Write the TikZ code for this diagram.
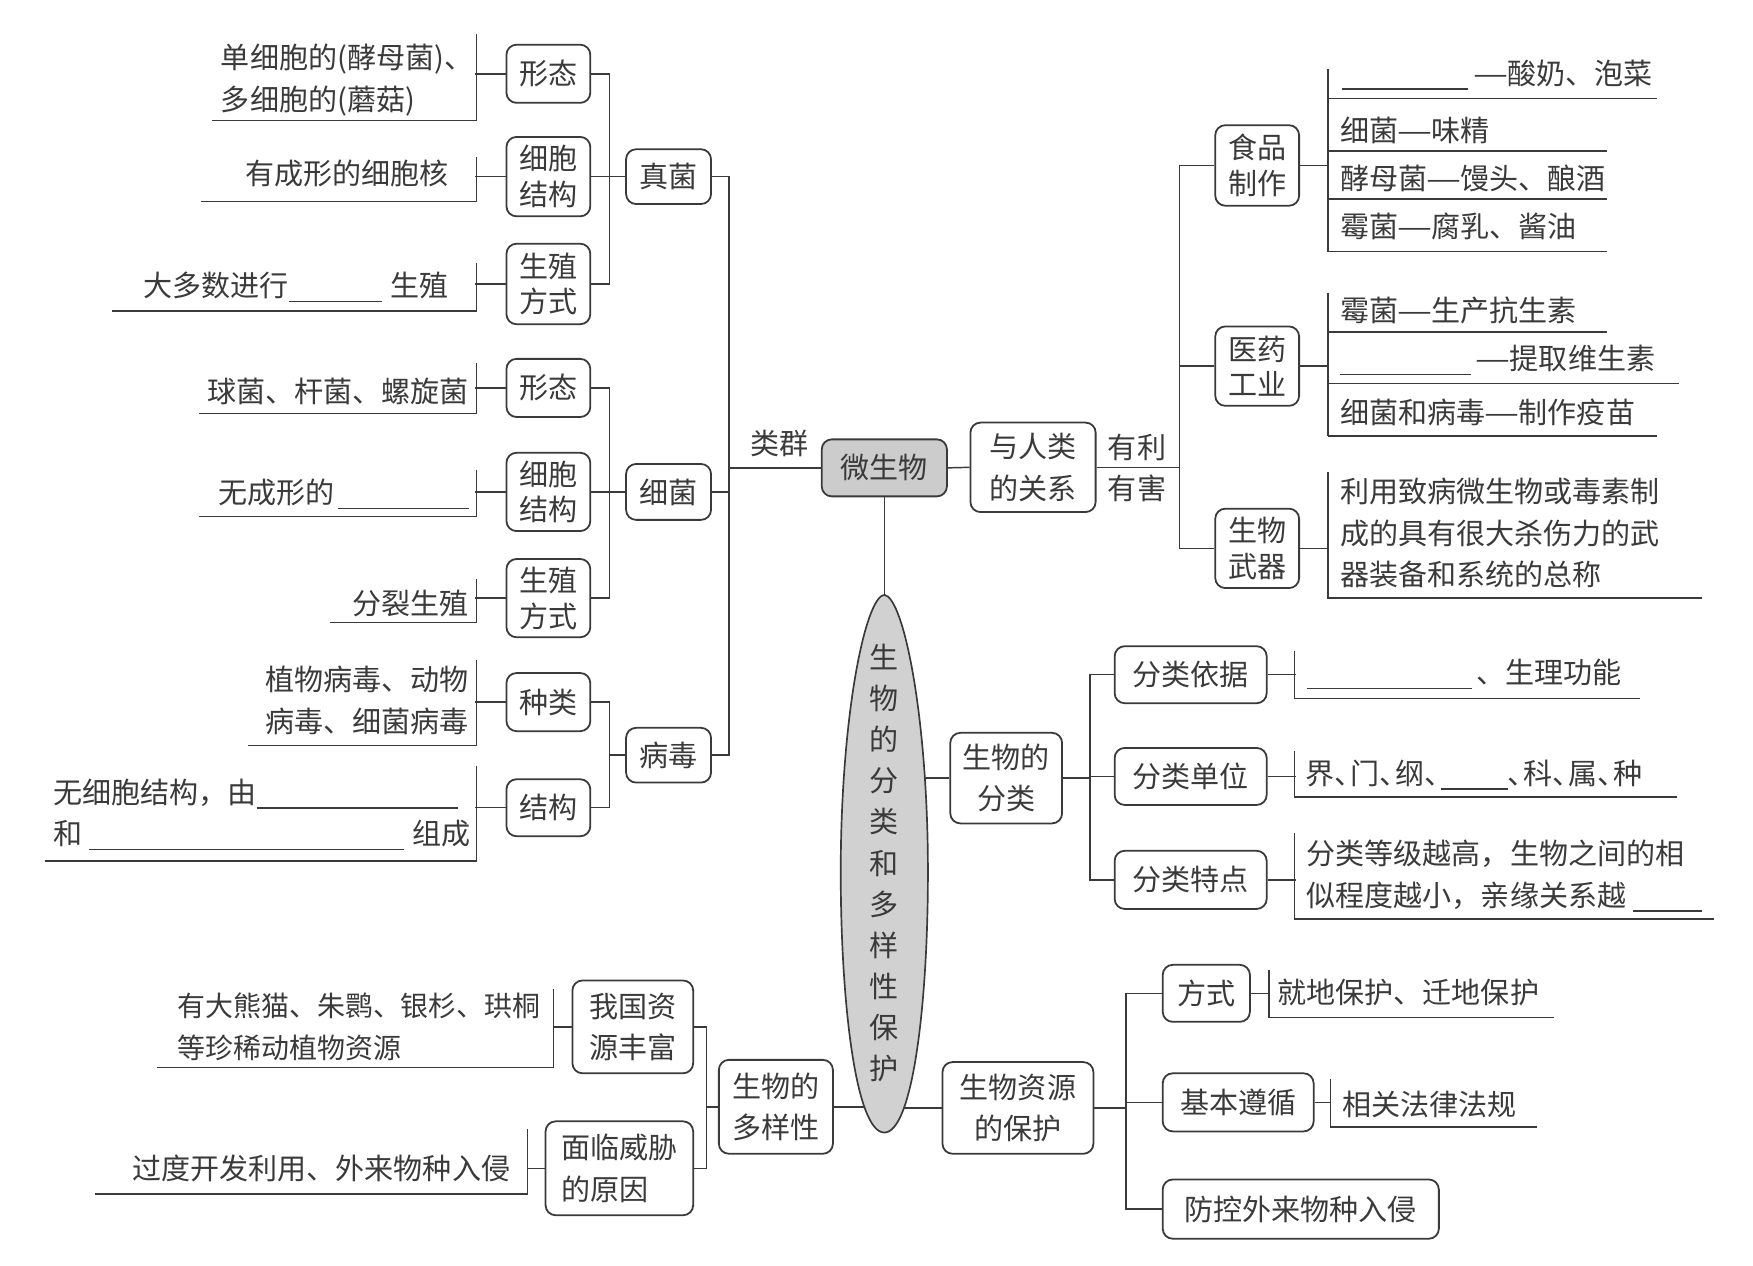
\documentclass[tikz,border=0pt]{standalone}
\usepackage{fontspec}
\setmainfont{Noto Sans CJK SC}
\usetikzlibrary{calc}
\definecolor{ln}{HTML}{3A3A3A}
\newcommand\myblank[1]{\rule[-5pt]{#1pt}{1.3pt}}
\newcommand\dunhao{\makebox[0.55em][l]{、}}
\newcommand\ldash{\makebox[1.15em][c]{\scalebox{1.35}[1]{—}}}
\begin{document}
\begin{tikzpicture}[x=1pt,y=-1pt,line width=1.3pt,ln,
  bx/.style={draw, rounded corners=9pt, line width=1.6pt, inner sep=0pt, align=center, font=\fontsize{26}{32}\selectfont},
  bxl/.style={bx, font=\fontsize{26}{37}\selectfont},
  lb/.style={inner sep=0pt, font=\fontsize{26}{37}\selectfont},
  sz/.style 2 args={minimum width=#1pt, minimum height=#2pt}]
\useasboundingbox (0,0) rectangle (1568,1132);

% ---------- 微生物 branch ----------
\node[bx, sz={75}{52}] (zxt) at (490.5,66) {形态};
\node[bx, sz={75}{71}] (zjg) at (490.5,158) {细胞\\结构};
\node[bx, sz={75}{72}] (zsz) at (490.5,254) {生殖\\方式};
\node[bx, sz={76}{49}] (zj) at (598,158) {真菌};

\node[bx, sz={75}{52}] (xxt) at (490.5,347) {形态};
\node[bx, sz={75}{70}] (xjg) at (490.5,440) {细胞\\结构};
\node[bx, sz={75}{70}] (xsz) at (490.5,535) {生殖\\方式};
\node[bx, sz={76}{50}] (xj) at (598,440) {细菌};

\node[bx, sz={75}{52}] (bzl) at (490.5,628) {种类};
\node[bx, sz={75}{51}] (bjg) at (490.5,722.5) {结构};
\node[bx, sz={76}{49}] (bd) at (598,675.5) {病毒};

\node[bx, sz={112}{51}, fill=black!20] (wsw) at (791,418.5) {微生物};
\node[lb] (lq) at (697,397) {类群};

\coordinate (zbar) at (545,0);
\draw (zxt.east) -| (zbar |- zsz.east) -- (zsz.east);
\draw (zjg.east) -- (zj.west);
\draw (xxt.east) -| (zbar |- xsz.east) -- (xsz.east);
\draw (xjg.east) -- (xj.west);
\draw (bzl.east) -| (zbar |- bjg.east) -- (bjg.east);
\draw (zbar |- bd.west) -- (bd.west);
\coordinate (cbar) at (652,0);
\draw (zj.east) -| (cbar |- bd.east) -- (bd.east);
\draw (xj.east) -- (xj.east -| cbar);
\draw (cbar |- wsw.west) -- (wsw.west);

% left texts
\node[lb, align=left, anchor=west] (t1) at (197,71.5) {单细胞的(酵母菌)、\\多细胞的(蘑菇)};
\draw (190,108) -- (426,108) -- (426,30);
\draw (zxt.west) -- ++(-27,0);
\node[lb, anchor=east] (t2) at (402,155) {有成形的细胞核};
\draw (180,180) -- (426,180) -- (426,140);
\draw (zjg.west) -- ++(-27,0);
\node[lb, anchor=east] (t3) at (402,257) {大多数进行\myblank{83}\hspace{8pt}生殖};
\draw (100,278) -- (426,278) -- (426,235);
\draw (zsz.west) -- ++(-27,0);

\node[lb, anchor=east] (t4) at (420,350) {球菌、杆菌、螺旋菌};
\draw (178,370) -- (426,370) -- (426,325);
\draw (xxt.west) -- ++(-27,0);
\node[lb, anchor=east] (t5) at (420,442) {无成形的\hspace{3pt}\myblank{117}};
\draw (178,462) -- (426,462) -- (426,420);
\draw (xjg.west) -- ++(-27,0);
\node[lb, anchor=east] (t6) at (420,540) {分裂生殖};
\draw (295,557) -- (426,557) -- (426,518);
\draw (xsz.west) -- ++(-27,0);

\node[lb, anchor=east, align=left] (t7) at (420,626.5) {植物病毒、动物\\病毒、细菌病毒};
\draw (222,667) -- (426,667) -- (426,590);
\draw (bzl.west) -- ++(-27,0);
\node[lb, anchor=west, align=left] (t8) at (47,728.5) {无细胞结构，由\myblank{180}\\和\hspace{6pt}\myblank{282}\hspace{7pt}组成};
\draw (40,770) -- (426,770) -- (426,685);
\draw (bjg.west) -- ++(-27,0);

% ---------- 与人类的关系 ----------
\node[bxl, sz={112}{80}] (gx) at (924,418) {与人类\\的关系};
\node[lb, align=center] (yl) at (1017,418.5) {有利\\有害};
\node[bx, sz={75}{72}] (sp) at (1124.5,148) {食品\\制作};
\node[bx, sz={75}{71}] (yy) at (1124.5,327.5) {医药\\工业};
\node[bx, sz={75}{71}] (wq) at (1124.5,490.5) {生物\\武器};
\draw (wsw.east) -- (gx.west);
\coordinate (rbar) at (1055,0);
\draw (gx.east) -- (gx.east -| rbar);
\draw (sp.west) -| (rbar |- wq.west) -- (wq.west);
\draw (yy.west) -- (yy.west -| rbar);

\draw (sp.east) -- ++(26,0);
\draw (1188,62) -- (1188,225);
\node[lb, anchor=west] (r1) at (1200,67) {\myblank{112}\hspace{6pt}\ldash 酸奶、泡菜};
\draw (1188,88) -- (1482,88);
\node[lb, anchor=west] (r2) at (1198,117) {细菌\ldash 味精};
\draw (1188,135) -- (1437,135);
\node[lb, anchor=west] (r3) at (1198,160) {酵母菌\ldash 馒头、酿酒};
\draw (1188,178) -- (1437,178);
\node[lb, anchor=west] (r4) at (1198,203) {霉菌\ldash 腐乳、酱油};
\draw (1188,225) -- (1437,225);

\draw (yy.east) -- ++(26,0);
\draw (1188,262) -- (1188,390);
\node[lb, anchor=west] (r5) at (1198,278) {霉菌\ldash 生产抗生素};
\draw (1188,297) -- (1437,297);
\node[lb, anchor=west] (r6) at (1198,322) {\myblank{117}\hspace{5pt}\ldash 提取维生素};
\draw (1188,343) -- (1502,343);
\node[lb, anchor=west] (r7) at (1198,369) {细菌和病毒\ldash 制作疫苗};
\draw (1188,390) -- (1482,390);

\draw (wq.east) -- ++(26,0);
\draw (1188,422) -- (1188,535) -- (1522,535);
\node[lb, anchor=west, align=left] (r8) at (1198,477) {利用致病微生物或毒素制\\成的具有很大杀伤力的武\\器装备和系统的总称};

% ---------- 生物的分类 ----------
\coordinate (ec) at (791,772);
\coordinate (etop) at (791,532);
\draw (wsw.south) -- (etop);
\node[bxl, sz={100}{81}] (fl) at (900,696) {生物的\\分类};
\node[bx, sz={136}{51}] (flyj) at (1065,603.5) {分类依据};
\node[bx, sz={136}{51}] (fldw) at (1065,694.5) {分类单位};
\node[bx, sz={136}{52}] (fltd) at (1065,787) {分类特点};
\draw (ec |- fl.west) -- (fl.west);
\coordinate (fbar) at (975,0);
\draw (fl.east) -- (fl.east -| fbar);
\draw (flyj.west) -| (fbar |- fltd.west) -- (fltd.west);
\draw (fldw.west) -- (fldw.west -| fbar);

\draw (flyj.east) -- ++(25,0);
\draw (1158,582) -- (1158,625) -- (1467,625);
\node[lb, anchor=west] (s1) at (1168,603) {\myblank{148}\hspace{4pt}、生理功能};
\draw (fldw.east) -- ++(25,0);
\draw (1158,672) -- (1158,713) -- (1500,713);
\node[lb, anchor=west] (s2) at (1167,693) {界\dunhao 门\dunhao 纲\dunhao \myblank{60}\dunhao 科\dunhao 属\dunhao 种};
\draw (fltd.east) -- ++(25,0);
\draw (1158,745) -- (1158,822) -- (1533,822);
\node[lb, anchor=west, align=left] (s3) at (1168,783.5) {分类等级越高，生物之间的相\\似程度越小，亲缘关系越\hspace{6pt}\myblank{62}};

% ---------- 生物的多样性 ----------
\node[bxl, sz={102}{84}] (dyx) at (694,990) {生物的\\多样性};
\node[bxl, sz={108}{83}] (zyfu) at (566,918.5) {我国资\\源丰富};
\node[bxl, sz={132}{84}, align=left] (wx) at (554,1045) {面临威胁\\的原因};
\draw (ec |- dyx.east) -- (dyx.east);
\coordinate (lbar) at (632,0);
\draw (dyx.west) -- (dyx.west -| lbar);
\draw (zyfu.east) -| (lbar |- wx.east) -- (wx.east);
\draw (zyfu.west) -- ++(-17,0);
\draw (495,885) -- (495,955) -- (140,955);
\node[lb, anchor=west, align=left, font=\fontsize{25}{37}\selectfont] (u1) at (158,918.5) {有大熊猫、朱鹮、银杉、珙桐\\等珍稀动植物资源};
\draw (wx.west) -- ++(-16,0);
\draw (472,1010) -- (472,1068) -- (85,1068);
\node[lb, anchor=east] (u2) at (457,1045) {过度开发利用、外来物种入侵};

% ---------- 生物资源的保护 ----------
\node[bxl, sz={135}{82}] (bh) at (910.5,991) {生物资源\\的保护};
\node[bx, sz={78}{51}] (fs) at (1079,888.5) {方式};
\node[bx, sz={135}{52}] (zx) at (1107.5,986) {基本遵循};
\node[bx, sz={247}{53}] (fk) at (1163.5,1081.5) {防控外来物种入侵};
\draw (ec |- bh.west) -- (bh.west);
\coordinate (bbar) at (1007,0);
\draw (bh.east) -- (bh.east -| bbar);
\draw (fs.west) -| (bbar |- fk.west) -- (fk.west);
\draw (zx.west) -- (zx.west -| bbar);
\draw (fs.east) -- ++(17,0);
\draw (1135,868) -- (1135,910) -- (1390,910);
\node[lb, anchor=west] (v1) at (1142,888) {就地保护、迁地保护};
\draw (zx.east) -- ++(15,0);
\draw (1190,965) -- (1190,1008) -- (1375,1008);
\node[lb, anchor=west] (v2) at (1200,988) {相关法律法规};

% ---------- central oval ----------
\path[draw, fill=black!18, line width=1.5pt] (etop) .. controls (808,534) and (830,640) .. (830,780) .. controls (830,900) and (816,1013) .. (791,1013) .. controls (766,1013) and (752,900) .. (752,780) .. controls (752,640) and (774,534) .. (etop) -- cycle;
\node[lb, font=\fontsize{26}{36.8}\selectfont, align=center] (core) at (ec) {生\\物\\的\\分\\类\\和\\多\\样\\性\\保\\护};
\end{tikzpicture}
\end{document}
